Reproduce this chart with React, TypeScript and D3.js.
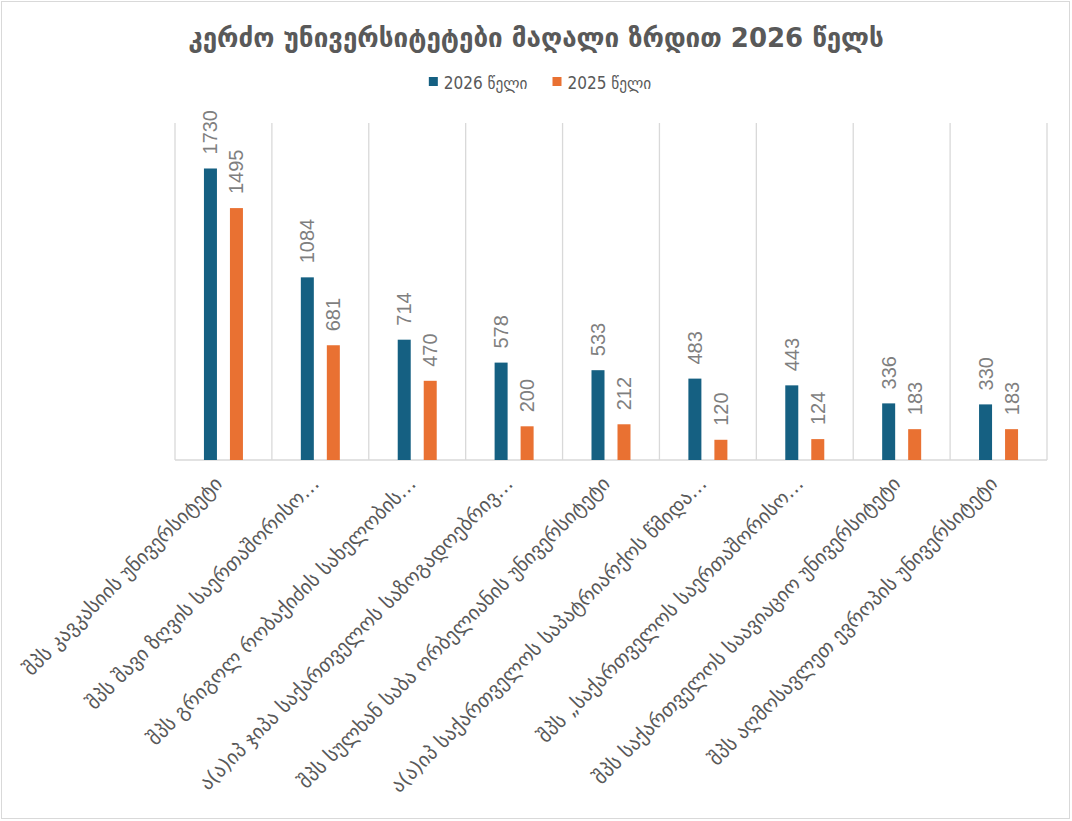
import React, { useEffect, useRef } from 'react';
import * as d3 from 'd3';

const chartTitle = 'კერძო უნივერსიტეტები მაღალი ზრდით 2026 წელს';

const universities = [
  'შპს  კავკასიის უნივერსიტეტი',
  'შპს  შავი ზღვის საერთაშორისო…',
  'შპს  გრიგოლ რობაქიძის სახელობის…',
  'ა(ა)იპ  ჯიპა  საქართველოს საზოგადოებრივ…',
  'შპს  სულხან საბა ორბელიანის უნივერსიტეტი',
  'ა(ა)იპ  საქართველოს საპატრიარქოს წმიდა…',
  'შპს  „საქართველოს საერთაშორისო…',
  'შპს  საქართველოს საავიაციო უნივერსიტეტი',
  'შპს აღმოსავლეთ ევროპის უნივერსიტეტი',
];

const values2026 = [1730, 1084, 714, 578, 533, 483, 443, 336, 330];
const values2025 = [1495, 681, 470, 200, 212, 120, 124, 183, 183];

const seriesNames = ['2026 წელი', '2025 წელი'];
const seriesColors = ['#156082', '#E97132'];
const yDomain = [0, 2000];

const W = 1072;
const H = 821;

const App = () => {
  const ref = useRef<SVGSVGElement>(null);

  useEffect(() => {
    const svg = d3.select(ref.current);
    svg.selectAll('*').remove();

    const margin = { top: 123, right: 25, bottom: 361, left: 175 };
    const innerW = W - margin.left - margin.right;
    const innerH = H - margin.top - margin.bottom;

    // border round the chart
    svg.append('rect')
      .attr('x', 1.5).attr('y', 1.5)
      .attr('width', W - 4).attr('height', H - 4)
      .attr('fill', '#fff')
      .attr('stroke', '#d9d9d9');

    svg.append('text')
      .attr('x', 536)
      .attr('y', 47)
      .attr('text-anchor', 'middle')
      .style('font-family', '"DejaVu Sans", sans-serif')
      .style('font-weight', 'bold')
      .style('font-size', '26px')
      .style('fill', '#595959')
      .text(chartTitle);

    // legend
    const legend = svg.append('g');
    const items = legend.selectAll('g')
      .data(seriesNames)
      .enter()
      .append('g');
    items.append('rect')
      .attr('width', 9).attr('height', 9)
      .attr('y', -9)
      .attr('fill', (d, i) => seriesColors[i]);
    items.append('text')
      .attr('x', 15)
      .attr('y', 0)
      .attr('dy', '0.15em')
      .style('font-family', '"Liberation Sans Narrow", "DejaVu Sans Condensed", sans-serif')
      .style('font-size', '17px')
      .style('fill', '#595959')
      .text(d => d);
    let offset = 0;
    items.each(function () {
      const g = d3.select(this);
      g.attr('transform', `translate(${offset},0)`);
      const tw = (g.select('text').node() as SVGTextElement).getComputedTextLength();
      offset += 15 + tw + 25;
    });
    const legendW = offset - 25;
    legend.attr('transform', `translate(${540 - legendW / 2},86)`);

    const g = svg.append('g')
      .attr('transform', `translate(${margin.left},${margin.top})`);

    const x = d3.scaleBand()
      .domain(universities)
      .range([0, innerW])
      .padding(0);

    const x1 = d3.scaleBand()
      .domain(seriesNames)
      .range([-19.5, 19.5])
      .paddingInner(0.5);

    const y = d3.scaleLinear()
      .domain(yDomain)
      .range([innerH, 0]);

    // vertical gridlines at category boundaries
    const bounds = d3.range(universities.length + 1).map(i => i * x.step());
    g.selectAll('.grid')
      .data(bounds)
      .enter()
      .append('line')
      .attr('x1', d => d).attr('x2', d => d)
      .attr('y1', 0).attr('y2', innerH)
      .attr('stroke', '#d9d9d9')
      .attr('stroke-width', 1.3);

    g.append('line')
      .attr('x1', 0).attr('x2', innerW)
      .attr('y1', innerH).attr('y2', innerH)
      .attr('stroke', '#d9d9d9')
      .attr('stroke-width', 1.3);

    const rows = universities.map((u, i) => ({
      name: u,
      vals: [values2026[i], values2025[i]],
    }));

    const groups = g.selectAll('.cat')
      .data(rows)
      .enter()
      .append('g')
      .attr('transform', d => `translate(${(x(d.name) as number) + x.bandwidth() / 2},0)`);

    groups.selectAll('rect')
      .data(d => d.vals.map((v, i) => ({ s: seriesNames[i], v, i })))
      .enter()
      .append('rect')
      .attr('x', d => x1(d.s) as number)
      .attr('width', x1.bandwidth())
      .attr('y', d => y(d.v))
      .attr('height', d => innerH - y(d.v))
      .attr('fill', d => seriesColors[d.i]);

    groups.selectAll('.val')
      .data(d => d.vals.map((v, i) => ({ s: seriesNames[i], v, i })))
      .enter()
      .append('text')
      .attr('transform', d => `translate(${(x1(d.s) as number) + x1.bandwidth() / 2},${y(d.v) - 14}) rotate(-90)`)
      .attr('dy', '0.35em')
      .style('font-family', '"Liberation Sans", Arial, sans-serif')
      .style('font-size', '20px')
      .style('fill', '#7f7f7f')
      .text(d => d.v);

    // category labels at -45 degrees
    g.selectAll('.lbl')
      .data(universities)
      .enter()
      .append('text')
      .attr('transform', d => `translate(${(x(d) as number) + x.bandwidth() / 2 - 5},${innerH + 20}) rotate(-45)`)
      .attr('text-anchor', 'end')
      .attr('dy', '0.35em')
      .style('font-family', '"DejaVu Sans", sans-serif')
      .style('font-size', '20px')
      .style('fill', '#595959')
      .text(d => d);
  }, []);

  return (
    <div style={{ position: 'fixed', left: 0, top: 0 }}>
      <svg ref={ref} width={W} height={H} style={{ display: 'block', background: '#fff' }} />
    </div>
  );
};

export default App;
